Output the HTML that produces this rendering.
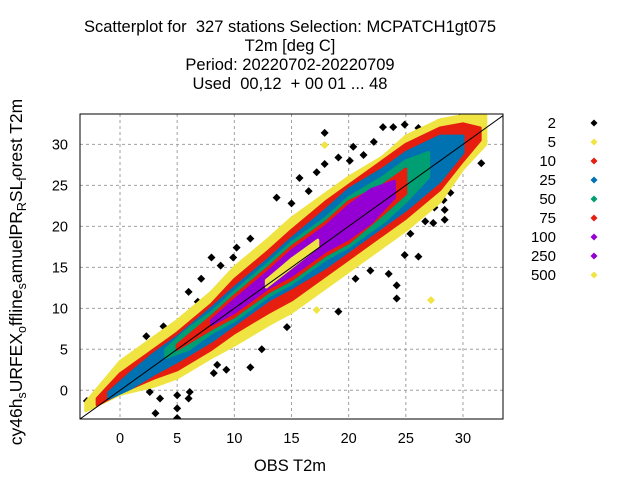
<!DOCTYPE html>
<html><head><meta charset="utf-8"><style>
html,body{margin:0;padding:0;background:#fff;}
svg{display:block;font-family:"Liberation Sans",Arial,sans-serif;}
</style></head><body>
<svg id="chart" width="640" height="480" viewBox="0 0 640 480" xmlns="http://www.w3.org/2000/svg">
<g font-size="16.5" text-anchor="middle" fill="#000">
<text x="290" y="32">Scatterplot for &#160;327 stations Selection: MCPATCH1gt075</text>
<text x="290" y="51">T2m [deg C]</text>
<text x="290" y="70">Period: 20220702-20220709</text>
<text x="290" y="89">Used &#160;00,12 &#160;+ 00 01 ... 48</text>
</g>
<defs><clipPath id="pc"><rect x="80" y="114" width="423" height="305"/></clipPath></defs>
<g id="grid"></g>
<g id="marks" clip-path="url(#pc)"></g>
<rect x="80" y="114" width="423" height="305" fill="none" stroke="#000" stroke-width="1"/>
<g id="ticks" font-size="14.5" fill="#000"></g>
<text x="290" y="471" font-size="16.5" text-anchor="middle">OBS T2m</text>
<text transform="translate(22,272) rotate(-90)" font-size="17.5" text-anchor="middle">cy46h<tspan font-size="12.5" dy="4">s</tspan><tspan dy="-4">URFEX</tspan><tspan font-size="12.5" dy="4">o</tspan><tspan dy="-4">ffline</tspan><tspan font-size="12.5" dy="4">s</tspan><tspan dy="-4">amuelPR</tspan><tspan font-size="12.5" dy="4">R</tspan><tspan dy="-4">SL</tspan><tspan font-size="12.5" dy="4">f</tspan><tspan dy="-4">orest T2m</tspan></text>
<g id="legend" font-size="15"></g>
</svg>
<script>
const xTicks=[0,5,10,15,20,25,30];
const yTicks=[0,5,10,15,20,25,30];
const legendLabels=["2","5","10","25","50","75","100","250","500"];
const legendColors=["#000000","#f0e442","#e51e10","#0072b2","#009e73","#e51e10","#9400d3","#9400d3","#f0e442"];
// density bands: x knots, lower and upper y
const y5X=[-3,0,3,5,8,10,13,15,18,20,23,25,28,30,32];
const y5Hi=[-1.5,3.5,6.5,8.5,12,15,18.5,21,24,26,28.5,31,33,33.5,33.5];
const y5Lo=[-2.5,-0.5,0.5,1.5,4,5.5,8,9.5,12.5,14.5,17.5,19.5,23,27,30];
const r10X=[-2,0,3,5,8,10,13,15,18,20,23,25,28,30,31.5];
const r10Hi=[-1,2,5,7,10.5,13.5,17,19.5,23,25,28,30,32,32.5,32];
const r10Lo=[-1.8,-0.3,1.5,2.5,5,7,9.5,11,14,16,19,21,24.5,28,30.5];
const b25X=[-1,1,3,5,8,10,13,15,18,20,23,25,28,30];
const b25Hi=[-0.3,2.2,4.5,6.5,10,12.5,16,18.5,22,24.5,27,29,31,31];
const b25Lo=[-1,0.3,2,3.5,6,8,11,12.5,15,17,20,22,25.5,29];
const g50X=[4,6,8,10,13,15,18,20,23,25,27];
const g50Hi=[5,7.5,9.5,12,15.5,18,21,23.5,26,28,29];
const g50Lo=[4,5,7,8.5,11.5,13,16,17.5,20.5,23,26];
const r75X=[5,8,10,13,15,18,20,23,25];
const r75Hi=[5.5,9,11.5,15,17.5,20.5,23,25,27];
const r75Lo=[5,7.5,9,12,13.5,16.5,18,21.5,24];
const p100X=[8,10,13,15,18,20,22,24];
const p100Hi=[8.5,11,14.5,17,20,22.5,24.5,25.5];
const p100Lo=[8,9.5,12.5,14,17,18.5,20.5,23.5];
const y500X=[12.8,15,17.3];
const y500Hi=[13.4,16,18.3];
const y500Lo=[12.6,15,17.5];
// sparse outliers
const blackX=[17.9,23.0,23.9,24.9,26.1,26.9,31.6,31.8,31.6,28.3,28.4,28.4,27.4,26.7,25.4,24.9,26.1,24.2,23.5,21.9,20.6,19.1,14.6,12.4,11.4,9.3,8.2,8.5,6.1,6.0,5.0,5.0,5.0,3.1,3.5,2.6,-2.9,2.3,3.8,5.0,6.0,8.0,10.2,11.4,13.7,15.0,15.7,17.2,17.9,19.1,20.1,20.4,21.3,22.2,23.2,16.5,8.8,7.1,6.8,9.9,26.4,27.5,28.9,29.8,29.7,27.8,24.2];
const blackY=[31.4,32.1,32.1,32.4,32.0,31.6,31.1,30.4,27.7,23.2,22.0,20.8,20.4,20.6,19.1,16.5,16.3,12.8,14.2,14.6,13.6,9.6,7.7,5.0,2.8,2.5,2.1,3.1,-0.2,-1.0,-0.6,-2.2,-3.4,-2.8,-1.0,-0.2,-1.3,6.6,7.8,8.2,12.0,16.2,17.4,18.5,23.5,22.8,25.9,26.6,27.6,28.4,28.0,29.7,28.7,30.3,28.5,24.3,15.2,13.6,10.8,16.2,22.3,22.3,24.1,28.8,33.2,32.6,11.2];
const yelX=[17.9,27.2,17.2,31.6];
const yelY=[29.9,11.0,9.8,32.9];

const XMIN=-3.5,XMAX=33.5,YMIN=-3.5,YMAX=33.7;
const PL=80,PR=503,PT=114,PB=419;
function sx(v){return PL+(v-XMIN)/(XMAX-XMIN)*(PR-PL);}
function sy(v){return PB-(v-YMIN)/(YMAX-YMIN)*(PB-PT);}
const NS="http://www.w3.org/2000/svg";
function mk(t,a,p){const e=document.createElementNS(NS,t);for(const k in a)e.setAttribute(k,a[k]);p.appendChild(e);return e;}
const grid=document.getElementById('grid'),marks=document.getElementById('marks'),ticks=document.getElementById('ticks'),legend=document.getElementById('legend');
xTicks.forEach(v=>{
  const l=mk('line',{x1:sx(v),x2:sx(v),y1:PT,y2:PB,stroke:'#a0a0a0','stroke-dasharray':'3,3','stroke-width':1},grid);
  
  
  const t=mk('text',{x:sx(v),y:PB+24,'text-anchor':'middle'},ticks);t.textContent=v;
  
  
});
yTicks.forEach(v=>{
  const l=mk('line',{x1:PL,x2:PR,y1:sy(v),y2:sy(v),stroke:'#a0a0a0','stroke-dasharray':'3,3','stroke-width':1},grid);
  
  
  const t=mk('text',{x:PL-12,y:sy(v)+5,'text-anchor':'end'},ticks);t.textContent=v;
  
  
});
function band(xs,lo,hi,col,name){
  let pts=xs.map((x,i)=>sx(x)+','+sy(hi[i]));
  for(let i=xs.length-1;i>=0;i--)pts.push(sx(xs[i])+','+sy(lo[i]));
  const p=mk('polygon',{points:pts.join(' '),fill:col,stroke:col,'stroke-width':3,'stroke-linejoin':'round'},marks);
  
  
}
function diamond(x,y,col,name,parent,r){
  const cx=parent===marks?sx(x):x, cy=parent===marks?sy(y):y;
  r=r||3.5;
  const p=mk('polygon',{points:`${cx},${cy-r} ${cx+r},${cy} ${cx},${cy+r} ${cx-r},${cy}`,fill:col},parent);
  
  
}
blackX.forEach((x,i)=>diamond(x,blackY[i],'#000','point-count-2',marks,4));
yelX.forEach((x,i)=>diamond(x,yelY[i],'#f0e442','point-count-5',marks,4));
band(y5X,y5Lo,y5Hi,'#f0e442','band-count-5');
band(r10X,r10Lo,r10Hi,'#e51e10','band-count-10');
band(b25X,b25Lo,b25Hi,'#0072b2','band-count-25');
band(g50X,g50Lo,g50Hi,'#009e73','band-count-50');
band(r75X,r75Lo,r75Hi,'#e51e10','band-count-75');
band(p100X,p100Lo,p100Hi,'#9400d3','band-count-100');
band(y500X,y500Lo,y500Hi,'#f0e442','band-count-500');
const dl=mk('line',{x1:sx(XMIN),y1:sy(XMIN),x2:sx(YMAX),y2:sy(YMAX),stroke:'#000','stroke-width':1},marks);


legendLabels.forEach((lab,i)=>{
  const y=123+i*19;
  const t=mk('text',{x:556,y:y+5,'text-anchor':'end'},legend);t.textContent=lab;
  
  
  diamond(594,y,legendColors[i],'legend-symbol',legend,3.5);
});
</script>
</body></html>
